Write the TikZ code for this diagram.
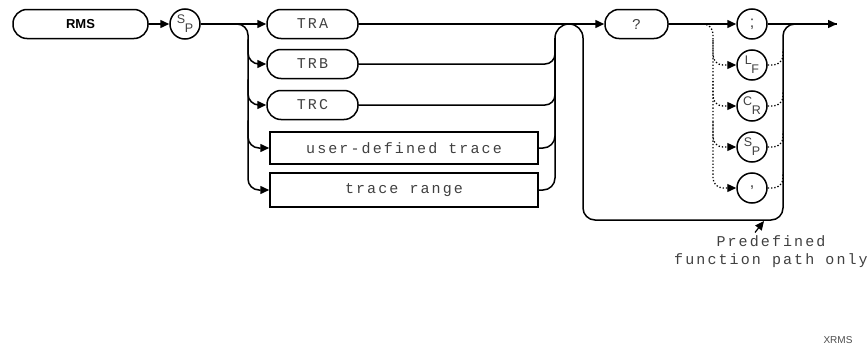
\documentclass[tikz,border=0pt]{standalone}
\usepackage{fontspec}
\setmainfont{Liberation Sans}
\newfontfamily\hpfont[LetterSpace=14]{Liberation Mono}
\usetikzlibrary{arrows.meta}

\newcommand{\twolet}[2]{\raisebox{4.5pt}{#1}\kern-0.5pt\raisebox{-4.5pt}{#2}}

\tikzset{
  syn/.style={line width=1.5pt},
  arr/.style={syn,-{Triangle[length=9pt,width=8pt]}},
  dots/.style={line width=1.3pt,dotted},
  hptext/.style={font=\hpfont\fontsize{15}{18}\selectfont,text=black!75},
  kw/.style={draw,syn,hptext,rounded corners=14pt,minimum height=29pt,inner sep=0pt},
  box/.style={draw,syn,hptext,minimum height=32pt,minimum width=268pt,inner sep=0pt},
  chr/.style={draw,syn,circle,minimum size=30pt,inner sep=0pt,
    font=\fontsize{12.5}{12.5}\selectfont,text=black!75}
}

\begin{document}
\begin{tikzpicture}[x=1pt,y=-1pt]
\useasboundingbox (0,0) rectangle (868,348);

% keywords and parameters
\node[kw,minimum width=135pt,font=\bfseries\fontsize{13}{13}\selectfont,text=black] (rms) at (80.5,24) {RMS};
\node[chr] (sp1) at (185,24) {\twolet SP};
\node[kw,minimum width=91pt] (tra) at (312.5,24) {TRA};
\node[kw,minimum width=91pt] (trb) at (312.5,64) {TRB};
\node[kw,minimum width=91pt] (trc) at (312.5,105) {TRC};
\node[box] (udt) at (404,148) {user-defined trace};
\node[box,minimum height=34pt] (trr) at (404,190) {trace range};
\node[kw,minimum width=63pt] (ask) at (636.5,24) {?};
\node[chr,font=\fontsize{16}{16}\selectfont] (semi) at (752,24) {;};
\node[chr] (lf) at (752,65) {\twolet LF};
\node[chr] (cr) at (752,106) {\twolet CR};
\node[chr] (sp2) at (752,147) {\twolet SP};
\node[chr,font=\fontsize{16}{16}\selectfont] (comma) at (752,188) {,};

\coordinate (lbus) at (248,24);
\coordinate (rbus) at (555,38);
\coordinate (rbus2) at (583,38);
\coordinate (dtop) at (703,24);
\coordinate (dbus) at (713,24);
\coordinate (obus) at (783,220);
\coordinate (exit) at (837,24);
\coordinate (hint) at (764,221);

% left bus
\draw[arr] (rms) -- (sp1);
\draw[arr] (sp1) -- (tra);
\draw[arr,rounded corners=11pt] (sp1.east) -| (lbus |- trr) -- (trr.west);
\draw[arr,rounded corners=11pt] (lbus |- tra.south) |- (trb.west);
\draw[arr,rounded corners=11pt] (lbus |- trb.south) |- (trc.west);
\draw[arr,rounded corners=11pt] (lbus |- trc.south) |- (udt.west);

% right bus
\draw[arr] (tra) -- (ask);
\draw[syn,rounded corners=10pt] (trb.east) -| (rbus);
\draw[syn,rounded corners=10pt] (trc.east) -| (rbus);
\draw[syn,rounded corners=12pt] (udt.east) -| (rbus);
\draw[syn,rounded corners=12pt] (trr.east) -| (rbus);
\draw[syn] (rbus) arc[start angle=180,end angle=0,radius=14pt];
\draw[arr,rounded corners=12pt] (rbus2) |- (obus) |- (exit);

% terminators
\draw[arr] (ask) -- (semi);
\draw[syn] (semi) -- (exit);
\draw[arr,dots,rounded corners=10pt] (dtop) -| (dbus |- comma) -- (comma.west);
\foreach \a/\b in {semi/lf,lf/cr,cr/sp2}
  \draw[arr,dots,rounded corners=10pt] (dbus |- \a.south) |- (\b.west);
\foreach \a in {lf,cr,sp2,comma}
  \draw[dots,rounded corners=10pt] (\a.east) -| (obus |- \a.north);

\node[hptext,align=center] (note) at (771,252) {Predefined\\function path only};
\draw[arr,line width=1.2pt] ([xshift=-16pt]note.north) -- (hint);

\node[font=\fontsize{10}{10}\selectfont,text=black!70] (fig) at (838,340) {XRMS};
\end{tikzpicture}
\end{document}
